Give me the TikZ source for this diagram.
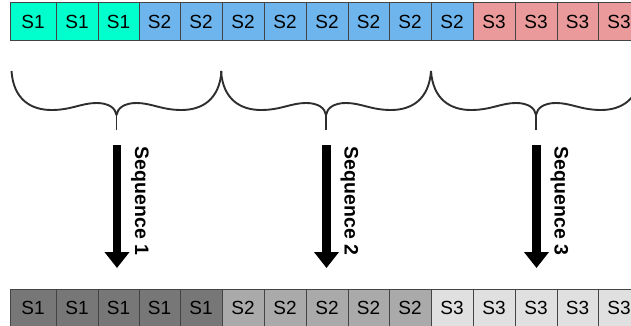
\documentclass[tikz,border=0pt]{standalone}
\usepackage{fontspec}
\setmainfont{Liberation Sans}
\usetikzlibrary{arrows.meta}

\definecolor{topone}{HTML}{00FFCC}
\definecolor{toptwo}{HTML}{6DB5EC}
\definecolor{topthree}{HTML}{EA9A9A}
\definecolor{botone}{HTML}{777777}
\definecolor{bottwo}{HTML}{AAAAAA}
\definecolor{botthree}{HTML}{E0E0E0}
\definecolor{cellline}{HTML}{444444}
\definecolor{bracecol}{HTML}{2E2E2E}

\tikzset{
  cell/.style={draw=cellline, line width=1pt, minimum height=38pt, inner sep=0pt,
    font=\fontsize{19}{19}\selectfont},
  seqlabel/.style={rotate=-90, inner sep=0pt, font=\fontsize{19.5}{19.5}\selectfont\bfseries},
  bigarrow/.style={line width=8.5pt, -{Triangle[width=24pt,length=16pt]}},
  curly/.pic={
    \draw[bracecol, line width=1.9pt, line join=round]
      (-105,-59) .. controls (-103,-30) and (-85,-20) .. (-65,-20)
      .. controls (-45,-20) and (-35,-27) .. (-20,-27)
      .. controls (-8,-27) and (-1,-22) .. (0,-15)
      .. controls (1,-22) and (8,-27) .. (20,-27)
      .. controls (35,-27) and (45,-20) .. (65,-20)
      .. controls (85,-20) and (103,-30) .. (105,-59);
    \draw[bracecol, line width=1.9pt] (0,-15) -- (0,0);
  }
}

\begin{document}
\begin{tikzpicture}[x=1pt, y=-1pt]
\useasboundingbox (0,0) rectangle (631,326);
\clip (0,0) rectangle (631,326);

% upper row: the mixed stream
\foreach \l/\r/\lab/\col [count=\i] in {
  10/56/S1/topone, 56/98/S1/topone, 98/139/S1/topone,
  139/180/S2/toptwo, 180/222/S2/toptwo, 222/264/S2/toptwo, 264/306/S2/toptwo,
  306/348/S2/toptwo, 348/389/S2/toptwo, 389/431/S2/toptwo, 431/473/S2/toptwo,
  473/515/S3/topthree, 515/557/S3/topthree, 557/598/S3/topthree, 598/640/S3/topthree}
  \node[cell, fill=\col, minimum width={(\r-\l)*1pt}] (t\i) at ({(\l+\r)/2}, 22) {\lab};

% lower row: the sorted sequences
\foreach \l/\r/\lab/\col [count=\i] in {
  10/56/S1/botone, 56/98/S1/botone, 98/139/S1/botone, 139/180/S1/botone, 180/222/S1/botone,
  222/264/S2/bottwo, 264/306/S2/bottwo, 306/348/S2/bottwo, 348/389/S2/bottwo, 389/431/S2/bottwo,
  431/473/S3/botthree, 473/515/S3/botthree, 515/557/S3/botthree, 557/598/S3/botthree, 598/640/S3/botthree}
  \node[cell, fill=\col, minimum width={(\r-\l)*1pt}] (b\i) at ({(\l+\r)/2}, 308) {\lab};

% braces grouping the stream
\pic at (116.5,130) {curly};
\pic at (326,130) {curly};
\pic at (536,130) {curly};

% arrows and their labels
\foreach \x/\n in {117/1, 326.5/2, 536.5/3} {
  \coordinate (s\n) at (\x,145);
  \coordinate (e\n) at (\x,268);
  \draw[bigarrow] (s\n) -- (e\n);
  \node[seqlabel] (q\n) at (\x+23,201) {Sequence \n};
}
\end{tikzpicture}
\end{document}
